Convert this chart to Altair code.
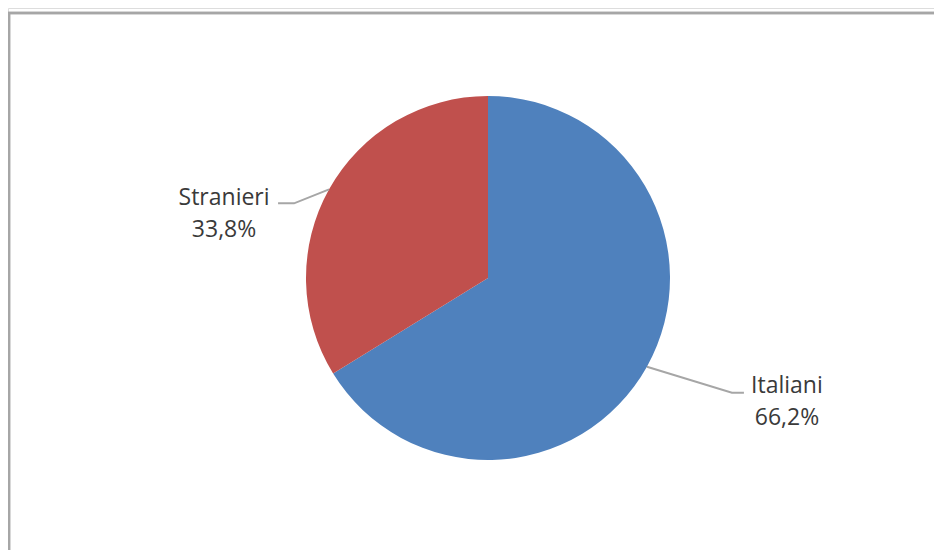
import math
import altair as alt
import pandas as pd

# ---- data ----
categories = ["Italiani", "Stranieri"]
shares = [66.2, 33.8]
pct_labels = ["66,2%", "33,8%"]
colors = ["#4F81BD", "#C0504D"]

# ---- layout (pixels, chart coordinates) ----
W, H = 926, 542
CX, CY, R = 480, 270, 182
label_dx = [140, -105]      # label anchor offset from slice edge midpoint
label_dy = [26, 16]
leader_gap = [43, 54]       # label centre -> leader end
leader_stub = [12, 16]      # horizontal stub length
leader_dy = [0, -2]
FRAME = "#A6A6A6"

total = sum(shares)
rows, leader_rows = [], []
cum = 0.0
for i, (cat, s, pl) in enumerate(zip(categories, shares, pct_labels)):
    mid = 2 * math.pi * (cum + s / 2) / total
    cum += s
    ex, ey = CX + R * math.sin(mid), CY - R * math.cos(mid)
    lx, ly = ex + label_dx[i], ey + label_dy[i]
    side = 1 if label_dx[i] > 0 else -1
    endx = lx - side * leader_gap[i]
    endy = ly + leader_dy[i]
    elbx = endx - side * leader_stub[i]
    rows.append(dict(idx=i, category=cat, share=s, label=f"{cat}\n{pl}", lx=lx, ly=ly))
    for step, (px, py) in enumerate([(ex, ey), (elbx, endy), (endx, endy)]):
        leader_rows.append(dict(category=cat, step=step, px=px, py=py))

df = pd.DataFrame(rows)
ldf = pd.DataFrame(leader_rows)

pie = alt.Chart(df).mark_arc(outerRadius=R).encode(
    theta=alt.Theta("share:Q", stack=True),
    color=alt.Color("category:N", scale=alt.Scale(domain=categories, range=colors), legend=None),
    order=alt.Order("idx:Q"),
    x=alt.value(CX),
    y=alt.value(CY),
)

leaders = alt.Chart(ldf).mark_line(color=FRAME, strokeWidth=2).encode(
    x=alt.X("px:Q", scale=None, axis=None),
    y=alt.Y("py:Q", scale=None, axis=None),
    detail="category:N",
    order=alt.Order("step:Q"),
)

labels = alt.Chart(df).mark_text(
    font="Open Sans", fontSize=23, color="#3a3a3a", align="center",
    baseline="alphabetic", lineBreak="\n", lineHeight=32,
).encode(
    x=alt.X("lx:Q", scale=None, axis=None),
    y=alt.Y("ly:Q", scale=None, axis=None),
    text="label:N",
)

frame_top = alt.Chart(df).mark_rule(color=FRAME, strokeWidth=2.5).encode(
    x=alt.value(0), x2=alt.value(W), y=alt.value(5)
)
frame_left = alt.Chart(df).mark_rule(color=FRAME, strokeWidth=2.5).encode(
    x=alt.value(1), y=alt.value(4), y2=alt.value(H)
)

chart = alt.layer(frame_top, frame_left, pie, leaders, labels).properties(
    width=W, height=H, padding=0,
    autosize=alt.AutoSizeParams(type="none"),
).configure_view(stroke=None).configure(background="white")

chart.save("out.html", embed_options={"renderer": "svg", "actions": False})
